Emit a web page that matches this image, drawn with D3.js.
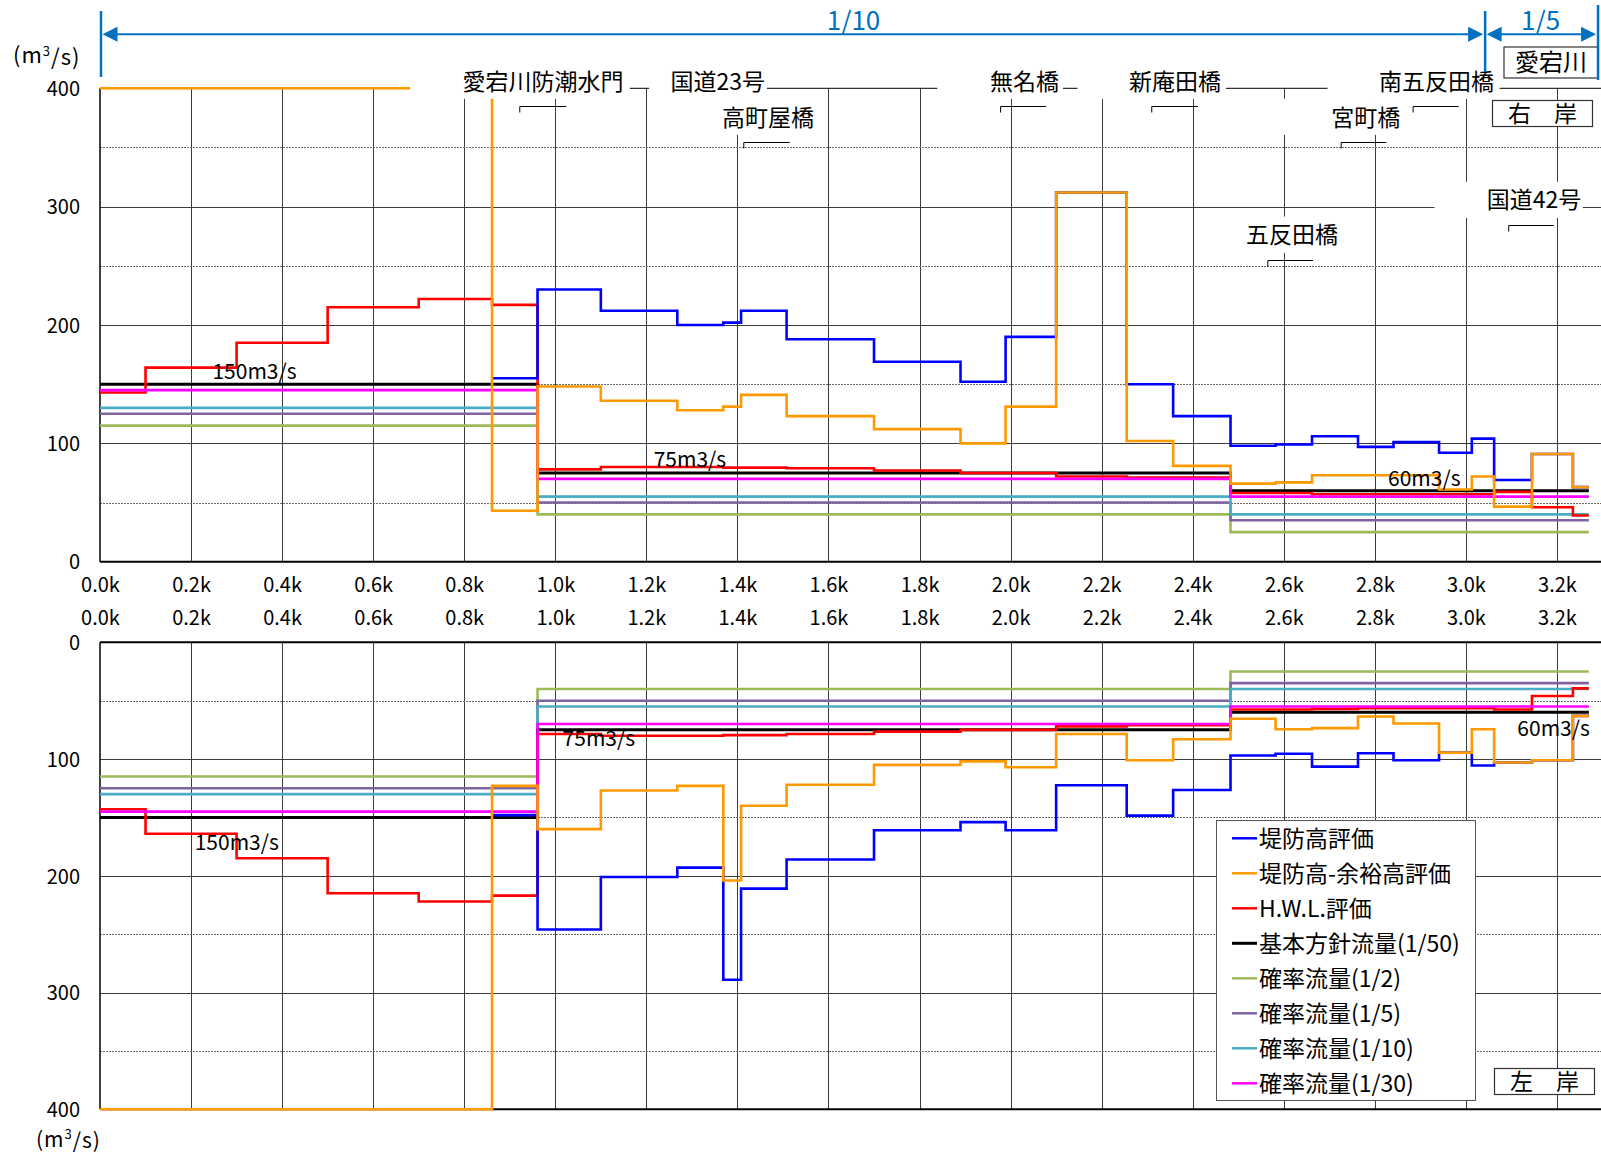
<!DOCTYPE html>
<html><head><meta charset="utf-8">
<script src="https://cdn.jsdelivr.net/npm/d3@7"></script>
<style>
html,body{margin:0;padding:0;background:#fff;}
svg{display:block;}
text{font-family:"Noto Sans CJK JP","Noto Sans",sans-serif;fill:#000;}
</style></head><body>
<svg id="chart" width="1601" height="1156"></svg>
<script>
// ---------------- DATA ----------------
// segment boundaries along the river (km)
const breaksKm = [0,0.1,0.3,0.5,0.7,0.861,0.961,1.10,1.268,1.369,1.408,1.508,1.70,1.89,1.989,2.10,2.255,2.357,2.483,2.582,2.662,2.763,2.841,2.941,3.013,3.062,3.145,3.235,3.27];

const seriesNames = ["堤防高評価","堤防高-余裕高評価","H.W.L.評価","基本方針流量(1/50)","確率流量(1/2)","確率流量(1/5)","確率流量(1/10)","確率流量(1/30)"];

// right bank (右岸) evaluated capacities, m3/s, one value per segment
const rightLevee     = [null,null,null,null,null,155,230,212,200,202,212,188,169,152,190,312,150,123,98,99,106,97,101,92,104,69,91,63];
const rightFreeboard = [400,400,400,400,400,43,148,136,128,131,141,123,112,100,131,312,102,81,66,67,73,73,73,61,72,46.5,91,63];
const rightHWL       = [143,164,185,215,222,217,78,80,80,79.5,79.5,79,77,75,75,72,71,71,58,58,57,57,57,57,57,59,46,39];

// left bank (左岸)
const leftLevee      = [null,null,null,null,null,148,246,201,193,289,211,186,161,154,161,122.5,148.5,126.5,97,95.5,106.5,95,101,94.5,105.5,103,101,63];
const leftFreeboard  = [400,400,400,400,400,123,160,127,123,204,140,122,105,102,107,78.5,101,83,65.5,74.5,73.5,63.5,69.5,94.5,74.5,103,101,63];
const leftHWL        = [143,164,185,215,222,217,78.5,80,80,79.5,79.5,78.5,76.5,75,75,72,71,71,57.5,57.5,57,56.5,56.5,56.5,56.5,57.5,46,39.5];

// design / probability flows (same for both banks)
const planFlow = [150,150,150,150,150,150,75,75,75,75,75,75,75,75,75,75,75,75,60,60,60,60,60,60,60,60,60,60];
const prob2    = [115,115,115,115,115,115,40,40,40,40,40,40,40,40,40,40,40,40,25,25,25,25,25,25,25,25,25,25];
const prob5    = [125,125,125,125,125,125,50,50,50,50,50,50,50,50,50,50,50,50,35,35,35,35,35,35,35,35,35,35];
const prob10   = [130,130,130,130,130,130,55,55,55,55,55,55,55,55,55,55,55,55,40,40,40,40,40,40,40,40,40,40];
const prob30   = [145,145,145,145,145,145,70,70,70,70,70,70,70,70,70,70,70,70,55,55,55,55,55,55,55,55,55,55];

const xTickValues = [0,0.2,0.4,0.6,0.8,1.0,1.2,1.4,1.6,1.8,2.0,2.2,2.4,2.6,2.8,3.0,3.2];
const xTickLabels = ["0.0k","0.2k","0.4k","0.6k","0.8k","1.0k","1.2k","1.4k","1.6k","1.8k","2.0k","2.2k","2.4k","2.6k","2.8k","3.0k","3.2k"];
const yTickValues = [0,100,200,300,400];
const yTickLabels = ["0","100","200","300","400"];
const yMinorValues = [50,150,250,350];

const flowLabels = ["150m3/s","75m3/s","60m3/s"];
const sectionBounds = [0, 3.04, 3.288];
const sectionLabels = ["1/10","1/5"];
const bridgeNames = ["愛宕川防潮水門","国道23号","高町屋橋","無名橋","新庵田橋","宮町橋","南五反田橋","国道42号","五反田橋"];

// ---------------- LAYOUT / STYLE ----------------
const colors = ["#0000FF","#FF9900","#FF0000","#000000","#9BBB59","#8064A2","#4BACC6","#FF00FF"];
const widths = [2.6,2.6,2.6,3,2.6,2.6,2.6,2.6];
const drawOrder = [4,5,6,3,2,7,0,1];
const blue = "#0070C0";
const numFont = "Liberation Sans, Arial, sans-serif";

// bridge annotation layout: text start km, text centre (top-panel value), white box [km0,km1,vTop,vBot], bracket [km0,km1,v]
const bridgeLayout = [
  {tk:0.796, tv:405.5, box:[0.681,1.164,415.6,391.1], br:[0.922,1.024,385.2]},
  {tk:1.253, tv:405.5, box:[1.206,1.465,415.6,391.1], br:null},
  {tk:1.366, tv:375.1, box:[1.351,1.582,391.1,360.7], br:[1.414,1.515,355]},
  {tk:1.955, tv:405.5, box:[1.839,2.115,415.6,391.1], br:[1.978,2.078,385.2]},
  {tk:2.260, tv:405.5, box:[2.147,2.473,415.6,391.1], br:[2.310,2.411,385.2]},
  {tk:2.704, tv:375.1, box:[2.581,2.866,391.1,360.7], br:[2.726,2.825,355]},
  {tk:2.809, tv:405.5, box:[2.696,3.074,415.6,391.1], br:[2.884,2.984,385.2]},
  {tk:3.046, tv:305.6, box:[2.931,3.257,321,290.4], br:[3.094,3.193,284.6]},
  {tk:2.517, tv:276.2, box:[2.504,2.723,291.6,260.9], br:[2.565,2.664,255]}
];
const flowLabelPosTop = [[0.247,160.6],[1.216,86],[2.829,70.5]];
const flowLabelPosBot = [[0.208,171.6],[1.016,82.2],[3.113,73.7]];

// ---------------- SCALES ----------------
const svg = d3.select("#chart");
svg.append("rect").attr("width",1601).attr("height",1156).attr("fill","#fff");
const x = d3.scaleLinear().domain([0,3.3]).range([100,1602.5]);
const yTop = d3.scaleLinear().domain([0,400]).range([561.7,88.3]);
const yBot = d3.scaleLinear().domain([0,400]).range([642.3,1109.3]);

function stepPts(vals){
  const pts=[];
  vals.forEach((v,i)=>{
    if(v==null){pts.push(null);return;}
    pts.push([breaksKm[i],v],[breaksKm[i+1],v]);
  });
  return pts;
}

function drawPanel(yS, seriesVals, cls, borders){
  const g = svg.append("g").attr("class",cls);
  g.selectAll("line.vgrid").data(xTickValues.slice(1)).join("line").attr("class","vgrid")
    .attr("x1",d=>Math.round(x(d))+0.5).attr("x2",d=>Math.round(x(d))+0.5)
    .attr("y1",yS(400)).attr("y2",yS(0))
    .attr("stroke","#3c3c3c").attr("stroke-width",1);
  g.selectAll("line.minor").data(yMinorValues).join("line").attr("class","minor")
    .attr("x1",x(0)).attr("x2",1601)
    .attr("y1",d=>Math.round(yS(d))+0.5).attr("y2",d=>Math.round(yS(d))+0.5)
    .attr("stroke","#6a6a6a").attr("stroke-width",1).attr("stroke-dasharray","2,1");
  g.selectAll("line.major").data([100,200,300]).join("line").attr("class","major")
    .attr("x1",x(0)).attr("x2",1601)
    .attr("y1",d=>Math.round(yS(d))+0.5).attr("y2",d=>Math.round(yS(d))+0.5)
    .attr("stroke","#3c3c3c").attr("stroke-width",1);
  // borders (under the series)
  borders.forEach(b=>{
    g.append("line").attr("x1",x(0)).attr("x2",1601).attr("y1",yS(b[0])).attr("y2",yS(b[0]))
      .attr("stroke","#000").attr("stroke-width",b[1]);
  });
  g.append("line").attr("x1",x(0)).attr("x2",x(0)).attr("y1",yS(400)).attr("y2",yS(0)).attr("stroke","#000").attr("stroke-width",1.5);
  const line = d3.line().defined(d=>d!==null).x(d=>x(d[0])).y(d=>yS(d[1]));
  drawOrder.forEach(i=>{
    g.append("path").attr("d",line(stepPts(seriesVals[i])))
      .attr("fill","none").attr("stroke",colors[i]).attr("stroke-width",widths[i])
      .attr("stroke-linejoin","miter").attr("stroke-linecap","butt");
  });
  return g;
}

// ---------- TOP PANEL (右岸) ----------
const gTop = drawPanel(yTop,[rightLevee,rightFreeboard,rightHWL,planFlow,prob2,prob5,prob10,prob30],"top",[[400,1],[0,2]]);
// white annotation boxes
bridgeLayout.forEach(b=>{
  gTop.append("rect").attr("x",x(b.box[0])).attr("y",yTop(b.box[2]))
    .attr("width",x(b.box[1])-x(b.box[0])).attr("height",yTop(b.box[3])-yTop(b.box[2]))
    .attr("fill","#fff");
});
// brackets and names
bridgeLayout.forEach((b,i)=>{
  if(b.br){
    const yy = Math.round(yTop(b.br[2]))+0.5;
    gTop.append("path").attr("d",`M${x(b.br[0])},${yy+6}V${yy}H${x(b.br[1])}`)
      .attr("fill","none").attr("stroke","#000").attr("stroke-width",1);
  }
  gTop.append("text").attr("x",x(b.tk)).attr("y",yTop(b.tv)).attr("dy","0.36em")
    .attr("font-size",23).text(bridgeNames[i]);
});
// flow labels
flowLabels.forEach((t,i)=>{
  gTop.append("text").attr("x",x(flowLabelPosTop[i][0])).attr("y",yTop(flowLabelPosTop[i][1])).attr("dy","0.36em")
    .attr("font-size",21).text(t);
});
// y axis labels
const axTop = svg.append("g").attr("transform",`translate(${x(0)},0)`)
  .call(d3.axisLeft(yTop).tickValues(yTickValues).tickFormat((d,i)=>yTickLabels[i]).tickSize(0).tickPadding(20));
axTop.select(".domain").remove();
axTop.selectAll("text").attr("font-size",20).attr("dy","0.36em").attr("fill","#000").attr("font-family",numFont);

// x axis labels (two rows)
const axX1 = svg.append("g").attr("transform",`translate(0,${yTop(0)})`)
  .call(d3.axisBottom(x).tickValues(xTickValues).tickFormat((d,i)=>xTickLabels[i]).tickSize(0));
axX1.select(".domain").remove();
axX1.selectAll("text").attr("y",23.5).attr("dy","0.36em").attr("font-size",20).attr("fill","#000").attr("font-family",numFont);
const axX2 = svg.append("g").attr("transform",`translate(0,${yBot(0)})`)
  .call(d3.axisTop(x).tickValues(xTickValues).tickFormat((d,i)=>xTickLabels[i]).tickSize(0));
axX2.select(".domain").remove();
axX2.selectAll("text").attr("y",-24.5).attr("dy","0.36em").attr("font-size",20).attr("fill","#000").attr("font-family",numFont);

// ---------- BOTTOM PANEL (左岸) ----------
const gBot = drawPanel(yBot,[leftLevee,leftFreeboard,leftHWL,planFlow,prob2,prob5,prob10,prob30],"bot",[[0,2],[400,2]]);
flowLabels.forEach((t,i)=>{
  gBot.append("text").attr("x",x(flowLabelPosBot[i][0])).attr("y",yBot(flowLabelPosBot[i][1])).attr("dy","0.36em")
    .attr("font-size",21).text(t);
});
const axBot = svg.append("g").attr("transform",`translate(${x(0)},0)`)
  .call(d3.axisLeft(yBot).tickValues(yTickValues).tickFormat((d,i)=>yTickLabels[i]).tickSize(0).tickPadding(20));
axBot.select(".domain").remove();
axBot.selectAll("text").attr("font-size",20).attr("dy","0.36em").attr("fill","#000").attr("font-family",numFont);

// legend
const lg = svg.append("g");
lg.append("rect").attr("x",1216.5).attr("y",820.5).attr("width",259).attr("height",280)
  .attr("fill","#fff").attr("stroke","#555").attr("stroke-width",1);
seriesNames.forEach((n,i)=>{
  const yy = 838.3 + i*35;
  lg.append("line").attr("x1",1232).attr("x2",1257).attr("y1",yy).attr("y2",yy)
    .attr("stroke",colors[i]).attr("stroke-width",i===3?3:2.5);
  lg.append("text").attr("x",1259).attr("y",yy).attr("dy","0.36em").attr("font-size",23).text(n);
});

// bank boxes
function bankBox(x0,y0,w,h,t,fs){
  svg.append("rect").attr("x",x0).attr("y",y0).attr("width",w).attr("height",h)
    .attr("fill","#fff").attr("stroke","#333").attr("stroke-width",1.2);
  svg.append("text").attr("x",x0+w/2).attr("y",y0+h/2).attr("dy","0.36em").attr("text-anchor","middle")
    .attr("font-size",fs).text(t);
}
bankBox(1492.5,100.5,100,26,"右　岸",23);
bankBox(1494.5,1068.5,100,26,"左　岸",23);
bankBox(1504,47,94,31,"愛宕川",24);

// section arrows
const ya = 34.3;
const ab = svg.append("g").attr("stroke",blue).attr("fill",blue);
sectionBounds.forEach((k,i)=>{
  ab.append("line").attr("x1",x(k)+1).attr("x2",x(k)+1).attr("y1",i===2?5:11).attr("y2",i===0?77:(i===1?72:80)).attr("stroke-width",2.5);
});
sectionLabels.forEach((t,i)=>{
  const a = x(sectionBounds[i])+2.5, b = x(sectionBounds[i+1])-1;
  ab.append("line").attr("x1",a+12).attr("x2",b-12).attr("y1",ya).attr("y2",ya).attr("stroke-width",2);
  ab.append("path").attr("d",`M${a},${ya}L${a+15},${ya-7.5}L${a+15},${ya+7.5}Z`).attr("stroke","none");
  ab.append("path").attr("d",`M${b},${ya}L${b-15},${ya-7.5}L${b-15},${ya+7.5}Z`).attr("stroke","none");
});
const secLabelKm = [1.655, 3.164];
sectionLabels.forEach((t,i)=>{
  svg.append("text").attr("x",x(secLabelKm[i])).attr("y",21).attr("dy","0.36em").attr("text-anchor","middle")
    .attr("font-size",26).attr("font-family",numFont).style("fill",blue).text(t);
});

// unit labels
function unitLabel(x0,yc,fs){
  const t = svg.append("text").attr("x",x0).attr("y",yc).attr("dy","0.36em").attr("font-size",fs).attr("letter-spacing",1);
  t.append("tspan").text("(m");
  t.append("tspan").attr("font-size",13).attr("dy","-0.55em").text("3");
  t.append("tspan").attr("dy","0.4em").text("/s)");
}
unitLabel(13,55,22);
unitLabel(36,1139,21);
</script>
</body></html>
